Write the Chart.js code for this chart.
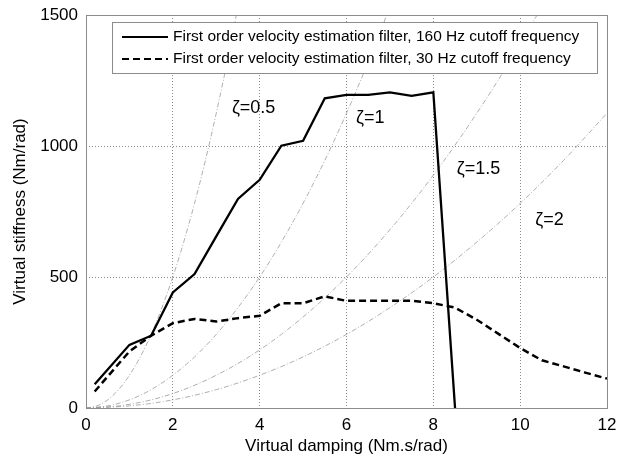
<!DOCTYPE html>
<html>
<head>
  <script src="https://cdn.jsdelivr.net/npm/chart.js@4"></script>
  <style>
    body { margin: 0; background: #fff; }
  </style>
</head>
<body>
  <canvas id="myChart" width="620" height="460"></canvas>
  <script>
    const damping160 = [0.2, 1, 1.5, 2, 2.5, 3, 3.5, 4, 4.5, 5, 5.5, 6, 6.5, 7, 7.5, 8, 8.5];
    const stiffness160 = [91, 241, 276, 441, 511, 655, 798, 871, 1001, 1020, 1182, 1195, 1195, 1205, 1191, 1205, 0];
    const damping30 = [0.2, 1, 1.5, 2, 2.5, 3, 3.5, 4, 4.5, 5, 5.5, 6, 6.5, 7, 7.5, 8, 8.5, 9, 9.5, 10, 10.5, 11, 11.5, 12];
    const stiffness30 = [63, 216, 276, 324, 340, 330, 343, 352, 400, 400, 426, 409, 409, 409, 409, 400, 383, 337, 283, 229, 182, 159, 135, 112];

    // damping ratio reference curves
    const zetaStiffness = [0, 8, 31, 70, 125, 195, 281, 383, 500, 633, 781, 945, 1125, 1320, 1531];
    const zeta05Damping = [0, 0.25, 0.5, 0.75, 1, 1.25, 1.5, 1.75, 2, 2.25, 2.5, 2.75, 3, 3.25, 3.5];
    const zeta1Damping = [0, 0.5, 1, 1.5, 2, 2.5, 3, 3.5, 4, 4.5, 5, 5.5, 6, 6.5, 7];
    const zeta15Damping = [0, 0.75, 1.5, 2.25, 3, 3.75, 4.5, 5.25, 6, 6.75, 7.5, 8.25, 9, 9.75, 10.5];
    const zeta2Damping = [0, 1, 2, 3, 4, 5, 6, 7, 8, 9, 10, 11, 12];

    const zetaLabels = ['\u03b6=0.5', '\u03b6=1', '\u03b6=1.5', '\u03b6=2'];
    const zetaLabelX = [3.36, 6.22, 8.54, 10.35];
    const zetaLabelY = [1145, 1107, 913, 718];

    const legendLabels = [
      'First order velocity estimation filter, 160 Hz cutoff frequency',
      'First order velocity estimation filter, 30 Hz cutoff frequency',
    ];

    const xTicks = [0, 2, 4, 6, 8, 10, 12];
    const yTicks = [0, 500, 1000, 1500];

    const FONT = 'Liberation Sans, Arial, sans-serif';

    const pts = (xs, ys) => xs.map((x, i) => ({ x, y: ys[i] }));

    const zetaStyle = {
      borderColor: '#9a9a9a',
      borderWidth: 0.8,
      borderDash: [5, 2, 1, 2],
      pointRadius: 0,
      fill: false,
      cubicInterpolationMode: 'monotone',
      order: 5,
    };

    const boxPlugin = {
      id: 'box',
      afterDraw(chart) {
        const { ctx, chartArea: a, scales } = chart;
        ctx.save();
        ctx.strokeStyle = '#8c8c8c';
        ctx.lineWidth = 1;
        ctx.strokeRect(a.left + 0.5, a.top + 0.5, a.right - a.left, a.bottom - a.top);

        // zeta labels
        ctx.fillStyle = '#000';
        ctx.font = '18px ' + FONT;
        ctx.textBaseline = 'middle';
        ctx.textAlign = 'left';
        zetaLabels.forEach((t, i) => {
          ctx.fillText(t, scales.x.getPixelForValue(zetaLabelX[i]), scales.y.getPixelForValue(zetaLabelY[i]));
        });

        // legend box
        const lx = 112, ly = 22, lw = 485, lh = 51;
        ctx.fillStyle = '#fff';
        ctx.fillRect(lx, ly, lw, lh);
        ctx.strokeStyle = '#8c8c8c';
        ctx.strokeRect(lx + 0.5, ly + 0.5, lw, lh);
        ctx.font = '15.5px ' + FONT;
        ctx.fillStyle = '#000';
        [0, 1].forEach(i => {
          const ds = chart.data.datasets[i];
          const yy = 37 + i * 22;
          ctx.beginPath();
          ctx.strokeStyle = '#000';
          ctx.lineWidth = 2;
          ctx.setLineDash(ds.borderDash || []);
          ctx.moveTo(122, yy);
          ctx.lineTo(168, yy);
          ctx.stroke();
          ctx.setLineDash([]);
          ctx.fillText(legendLabels[i], 173, yy);
        });
        ctx.restore();
      },
    };

    const ctx = document.getElementById('myChart').getContext('2d');
    new Chart(ctx, {
      type: 'line',
      data: {
        datasets: [
          {
            label: legendLabels[0],
            data: pts(damping160, stiffness160),
            borderColor: '#000',
            borderWidth: 2.3,
            pointRadius: 0,
            fill: false,
            order: 1,
          },
          {
            label: legendLabels[1],
            data: pts(damping30, stiffness30),
            borderColor: '#000',
            borderWidth: 2.5,
            borderDash: [7, 4],
            pointRadius: 0,
            fill: false,
            order: 2,
          },
          { label: zetaLabels[0], data: pts(zeta05Damping, zetaStiffness), ...zetaStyle },
          { label: zetaLabels[1], data: pts(zeta1Damping, zetaStiffness), ...zetaStyle },
          { label: zetaLabels[2], data: pts(zeta15Damping, zetaStiffness), ...zetaStyle },
          { label: zetaLabels[3], data: pts(zeta2Damping, zetaStiffness.slice(0, zeta2Damping.length)), ...zetaStyle },
        ],
      },
      options: {
        responsive: false,
        animation: false,
        events: [],
        layout: { padding: { left: 0, right: 13, top: 15, bottom: 0 } },
        plugins: {
          legend: { display: false },
          tooltip: { enabled: false },
        },
        scales: {
          x: {
            type: 'linear',
            min: 0,
            max: 12,
            afterBuildTicks: s => { s.ticks = xTicks.map(v => ({ value: v })); },
            afterFit: s => { s.height = 52; s.paddingLeft = 0; s.paddingRight = 0; },
            border: { display: false, dash: [1, 2] },
            grid: {
              drawTicks: false,
              color: c => (c.tick.value === 0 || c.tick.value === 12) ? 'rgba(0,0,0,0)' : '#8a8a8a',
              lineWidth: 1,
            },
            ticks: { color: '#000', font: { size: 17, family: FONT }, padding: 7, maxRotation: 0, callback: v => String(v) },
            title: {
              display: true,
              text: 'Virtual damping (Nm.s/rad)',
              color: '#000',
              font: { size: 17, family: FONT },
              padding: { top: 0, bottom: 3 },
            },
          },
          y: {
            type: 'linear',
            min: 0,
            max: 1500,
            afterBuildTicks: s => { s.ticks = yTicks.map(v => ({ value: v })); },
            afterFit: s => { s.width = 86; s.paddingTop = 0; s.paddingBottom = 0; },
            border: { display: false, dash: [1, 2] },
            grid: {
              drawTicks: false,
              color: c => (c.tick.value === 0 || c.tick.value === 1500) ? 'rgba(0,0,0,0)' : '#8a8a8a',
              lineWidth: 1,
            },
            ticks: { color: '#000', font: { size: 17, family: FONT }, padding: 8, callback: v => String(v) },
            title: {
              display: true,
              text: 'Virtual stiffness (Nm/rad)',
              color: '#000',
              font: { size: 17, family: FONT },
              padding: { top: 10, bottom: 4 },
            },
          },
        },
      },
      plugins: [boxPlugin],
    });
  </script>
</body>
</html>
